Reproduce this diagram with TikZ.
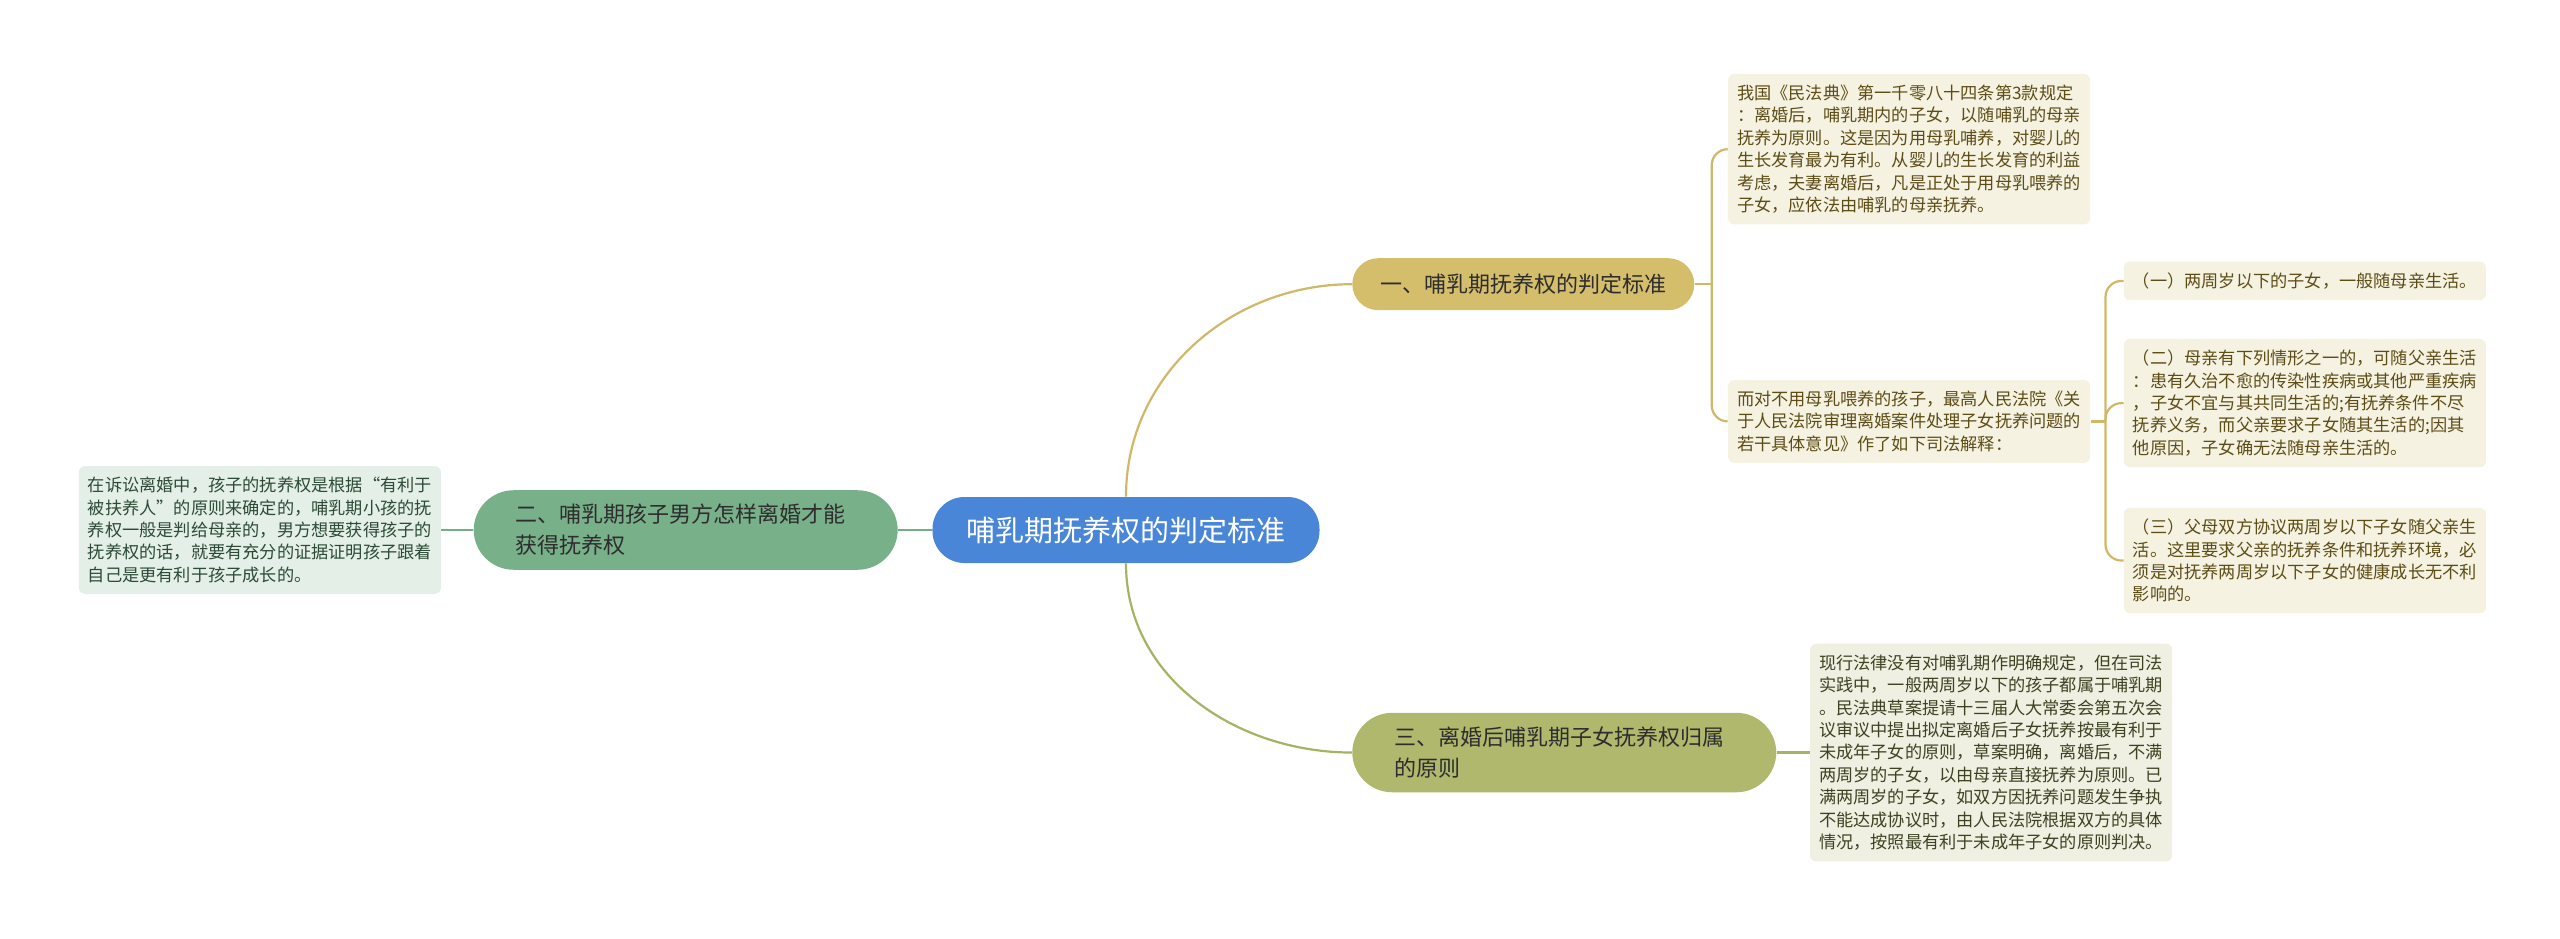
\documentclass[tikz,border=0pt]{standalone}
\usepackage{fontspec}
\usepackage{xcolor}
\usepackage{tikz}
\usetikzlibrary{positioning}
\setmainfont{Noto Sans CJK SC}
\newfontfamily\cjk{Noto Sans CJK SC}

\definecolor{rootblue}{RGB}{74,134,216}
\definecolor{goldfill}{RGB}{212,189,107}
\definecolor{goldline}{RGB}{208,184,104}
\definecolor{goldleaf}{RGB}{245,242,225}
\definecolor{goldtext}{RGB}{92,76,22}
\definecolor{greenfill}{RGB}{120,176,138}
\definecolor{greenline}{RGB}{120,172,136}
\definecolor{greenleaf}{RGB}{228,239,231}
\definecolor{greentext}{RGB}{44,74,54}
\definecolor{olivefill}{RGB}{175,184,108}
\definecolor{oliveline}{RGB}{168,178,100}
\definecolor{oliveleaf}{RGB}{239,240,225}
\definecolor{olivetext}{RGB}{60,66,34}
\definecolor{branchtext}{RGB}{45,45,45}

\begin{document}
\begin{tikzpicture}[
    node distance=16pt and 16pt,
    rootbox/.style={fill=rootblue,text=white,rounded corners=16pt,minimum height=33pt,inner xsep=17pt,font=\cjk\fontsize{14.5pt}{17pt}\selectfont},
    branch/.style={align=left,text=branchtext,font=\cjk\fontsize{11pt}{15.5pt}\selectfont},
    onebox/.style={branch,fill=goldfill,rounded corners=13pt,minimum height=26pt,inner xsep=14pt},
    twobox/.style={branch,text width=170pt,inner xsep=21pt,inner ysep=7pt,rounded corners=20pt},
    leaf/.style={align=left,text width=172pt,inner xsep=4.5pt,inner ysep=5.5pt,rounded corners=3pt,font=\cjk\fontsize{8.6pt}{11.2pt}\selectfont},
    goldbox/.style={leaf,fill=goldleaf,text=goldtext},
    greenbox/.style={leaf,fill=greenleaf,text=greentext},
    olivebox/.style={leaf,fill=oliveleaf,text=olivetext},
    link/.style={line width=1.1pt},
    fork/.style={link,color=goldline,rounded corners=8pt}
]
\useasboundingbox (-563pt,-204pt) rectangle (717pt,265pt);

\node[rootbox] (root) at (0,0) {哺乳期抚养权的判定标准};

\node[onebox,above right=93pt and 16pt of root] (b1) {一、哺乳期抚养权的判定标准};
\node[twobox,fill=greenfill,left=17pt of root] (b2) {二、哺乳期孩子男方怎样离婚才能\\获得抚养权};
\node[twobox,fill=olivefill,below right=74.5pt and 16pt of root] (b3) {三、离婚后哺乳期子女抚养权归属\\的原则};

\node[goldbox,above right=16.5pt and 16.5pt of b1] (l1a) {我国《民法典》第一千零八十四条第3款规定\\：离婚后，哺乳期内的子女，以随哺乳的母亲\\抚养为原则。这是因为用母乳哺养，对婴儿的\\生长发育最为有利。从婴儿的生长发育的利益\\考虑，夫妻离婚后，凡是正处于用母乳喂养的\\子女，应依法由哺乳的母亲抚养。};
\node[goldbox,below right=34.5pt and 16.5pt of b1] (l1b) {而对不用母乳喂养的孩子，最高人民法院《关\\于人民法院审理离婚案件处理子女抚养问题的\\若干具体意见》作了如下司法解释：};

\node[goldbox,above right=39.5pt and 16.5pt of l1b] (c1) {（一）两周岁以下的子女，一般随母亲生活。};
\node[goldbox,below=19pt of c1] (c2) {（二）母亲有下列情形之一的，可随父亲生活\\：患有久治不愈的传染性疾病或其他严重疾病\\，子女不宜与其共同生活的;有抚养条件不尽\\抚养义务，而父亲要求子女随其生活的;因其\\他原因，子女确无法随母亲生活的。};
\node[goldbox,below=20pt of c2] (c3) {（三）父母双方协议两周岁以下子女随父亲生\\活。这里要求父亲的抚养条件和抚养环境，必\\须是对抚养两周岁以下子女的健康成长无不利\\影响的。};

\node[greenbox,left=16pt of b2] (l2) {在诉讼离婚中，孩子的抚养权是根据“有利于\\被扶养人”的原则来确定的，哺乳期小孩的抚\\养权一般是判给母亲的，男方想要获得孩子的\\抚养权的话，就要有充分的证据证明孩子跟着\\自己是更有利于孩子成长的。};

\node[olivebox,right=16.5pt of b3] (l3) {现行法律没有对哺乳期作明确规定，但在司法\\实践中，一般两周岁以下的孩子都属于哺乳期\\。民法典草案提请十三届人大常委会第五次会\\议审议中提出拟定离婚后子女抚养按最有利于\\未成年子女的原则，草案明确，离婚后，不满\\两周岁的子女，以由母亲直接抚养为原则。已\\满两周岁的子女，如双方因抚养问题发生争执\\不能达成协议时，由人民法院根据双方的具体\\情况，按照最有利于未成年子女的原则判决。};

\coordinate[right=8.5pt of b1.east] (j1);
\coordinate[right=7.5pt of l1b.east] (j2);

% main branches
\draw[link,goldline] (root.north) to[out=90,in=180] (b1.west);
\draw[link,oliveline] (root.south) to[out=-90,in=180] (b3.west);
\draw[link,greenline] (root.west) -- (b2.east);
\draw[link,greenline] (b2.west) -- (l2.east);
\draw[link,oliveline] (b3.east) -- (l3.west);

% leaves of the first branch
\draw[link,goldline] (b1.east) -- (j1);
\draw[fork] (j1) |- (l1a.west);
\draw[fork] (j1) |- (l1b.west);
\draw[link,goldline] (l1b.east) -- (j2);
\foreach \c in {c1,c2,c3}
    \draw[fork] (j2) |- (\c.west);
\end{tikzpicture}
\end{document}
